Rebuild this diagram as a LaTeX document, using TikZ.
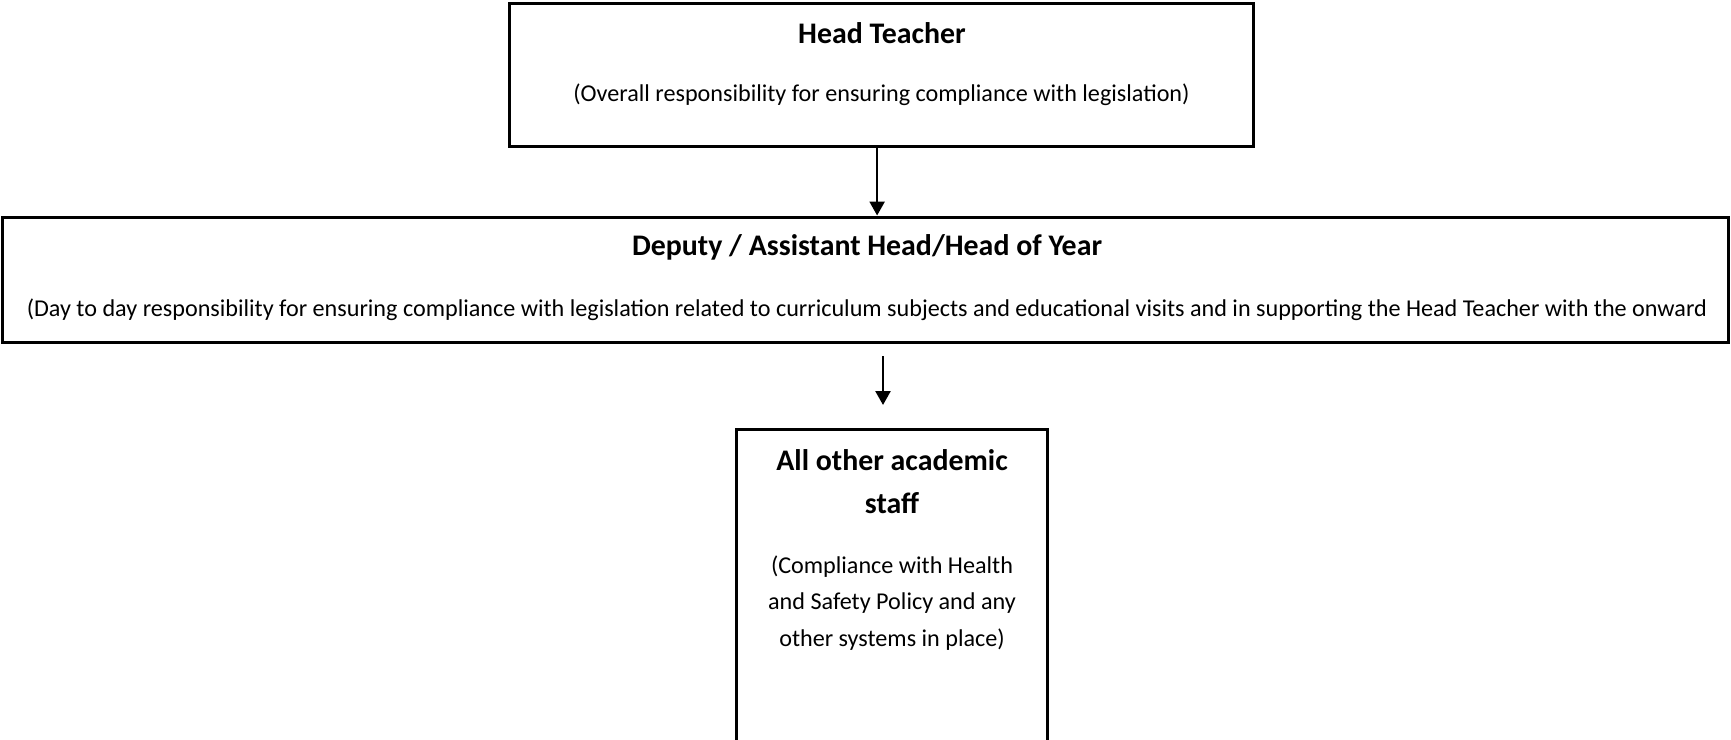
\documentclass[tikz,border=0pt]{standalone}
\usepackage{fontspec}
\setmainfont{Carlito}
\usepackage{xcolor}
\usepackage{tikz}
\usetikzlibrary{positioning,arrows.meta,calc}
\definecolor{mInk}{HTML}{000000}
\tikzset{
 rolebox/.style={draw=mInk, line width=1.7pt, inner sep=0pt},
 roletitle/.style={font=\fontsize{17}{24.4}\selectfont\bfseries, text=mInk, inner sep=0pt, align=center},
 roletext/.style={font=\fontsize{13.75}{19.3}\selectfont, text=mInk, inner sep=0pt, align=center},
 arr/.style={-{Triangle[length=0.28cm,width=0.3cm]}, line width=1.4pt, draw=mInk}
}
\begin{document}
\begin{tikzpicture}[x=0.02cm,y=-0.02cm]
\clip (0,0) rectangle (1731,740);
% boxes
\node[rolebox, minimum width=14.9cm, minimum height=2.88cm] (hdt) at (881.5,75) {};
\node[rolebox, minimum width=34.54cm, minimum height=2.52cm] (dep) at (865.5,280) {};
\node[rolebox, minimum width=6.24cm, minimum height=6.82cm] (stf) at (892,599.5) {};
% texts
\node[roletitle] (hdtT) at (882,33) {Head Teacher};
\node[roletext] (hdtS) at (881.5,95) {(Overall responsibility for ensuring compliance with legislation)};
\node[roletitle] (depT) at (867,247) {Deputy / Assistant Head/Head of Year};
\node[roletext] (depS) at (867,310) {(Day to day responsibility for ensuring compliance with legislation related to curriculum subjects and educational visits and in supporting the Head Teacher with the onward};
\node[roletitle] (stfT) at (892,482) {All other academic\\staff};
\node[roletext, font=\fontsize{13.75}{20.6}\selectfont] (stfS) at (892,603) {(Compliance with Health\\and Safety Policy and any\\other systems in place)};
% arrows
\coordinate (a2top) at (883,356);
\coordinate (a2tip) at (883,405);
\draw[arr] ([xshift=-2.5]hdt.south) -- ([xshift=-2.5]hdt.south |- dep.north);
\draw[arr] (a2top) -- (a2tip);
\end{tikzpicture}
\end{document}
